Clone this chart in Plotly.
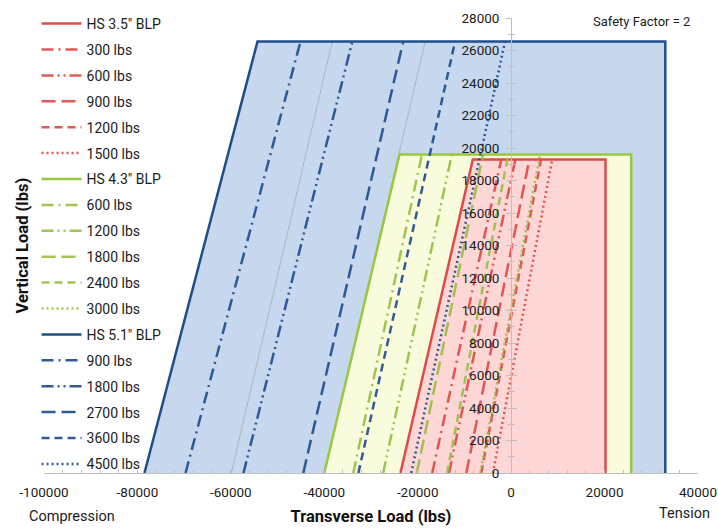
import plotly.graph_objects as go

# ---------------- data (lbs) ----------------
# HS 3.5" BLP envelope and capacity lines
red_env_x = [-23700, -8200, 20200, 20200]          # bottom-left, top-left, top-right, bottom-right
red_env_y = [0, 19300, 19300, 0]
red_loads = ["300 lbs", "600 lbs", "900 lbs", "1200 lbs", "1500 lbs"]
red_bottom_x = [-16900, -13300, -9600, -6400, -3900]
red_top_x = [-2100, 900, 3900, 6400, 8800]
red_top_y = 19300

# HS 4.3" BLP
green_env_x = [-40000, -23900, 25700, 25700]
green_env_y = [0, 19600, 19600, 0]
green_loads = ["600 lbs", "1200 lbs", "1800 lbs", "2400 lbs", "3000 lbs"]
green_bottom_x = [-33800, -27400, -20200, -13700, -6600]
green_top_x = [-19100, -12700, -6000, -600, 6200]
green_top_y = 19600

# HS 5.1" BLP
blue_env_x = [-78500, -54300, 33000, 33000]
blue_env_y = [0, 26550, 26550, 0]
blue_loads = ["900 lbs", "1800 lbs", "2700 lbs", "3600 lbs", "4500 lbs"]
blue_bottom_x = [-69700, -57300, -44500, -32700, -21400]
blue_top_x = [-45100, -34000, -23100, -12000, -1300]
blue_top_y = 26550

# faint guide lines inside the 5.1" envelope
guide_bottom_x = [-59900, -40000]
guide_top_x = [-38300, -18400]
guide_top_y = 26550

x_ticks = [-100000, -80000, -60000, -40000, -20000, 0, 20000, 40000]
y_ticks = list(range(0, 28001, 2000))

# ---------------- styles ----------------
FONT = "Roboto"
TXT = "#1c1c1c"
RED, RED_FILL = "#DE4B48", "#FDD6D6"
GREEN, GREEN_FILL = "#97C83F", "#F8FBDC"
BLUE, BLUE_FILL = "#1F4E8C", "#C6D7EE"
DASHES = ["12px,5px,2px,5px", "12px,4px,2px,4px,2px,4px", "14px,6px", "8px,5px", "2px,3px"]

fig = go.Figure()


def add_fill(xs, ys, color):
    fig.add_trace(go.Scatter(x=xs + [xs[0]], y=ys + [ys[0]], fill="toself", fillcolor=color,
                             mode="none", showlegend=False, hoverinfo="skip"))


add_fill(blue_env_x, blue_env_y, BLUE_FILL)
for bx, tx in zip(guide_bottom_x, guide_top_x):
    fig.add_trace(go.Scatter(x=[bx, tx], y=[0, guide_top_y], mode="lines",
                             line=dict(color="rgba(150,150,150,0.7)", width=0.8),
                             showlegend=False, hoverinfo="skip"))
add_fill(green_env_x, green_env_y, GREEN_FILL)
add_fill(red_env_x, red_env_y, RED_FILL)

rank = [0]


def add_family(name, env_x, env_y, loads, bxs, txs, ty, color, alpha_color):
    rank[0] += 1
    fig.add_trace(go.Scatter(x=env_x, y=env_y, mode="lines", name=name,
                             line=dict(color=color, width=2.5), legendrank=rank[0],
                             legendgroup="g%d" % rank[0]))
    for lab, bx, tx, d in zip(loads, bxs, txs, DASHES):
        rank[0] += 1
        fig.add_trace(go.Scatter(x=[bx, tx], y=[0, ty], mode="lines", name=lab,
                                 line=dict(color=alpha_color, width=2.5, dash=d),
                                 legendrank=rank[0], legendgroup="g%d" % rank[0]))


add_family('HS 3.5" BLP', red_env_x, red_env_y, red_loads, red_bottom_x, red_top_x, red_top_y,
           RED, "rgba(222,75,72,0.92)")
add_family('HS 4.3" BLP', green_env_x, green_env_y, green_loads, green_bottom_x, green_top_x,
           green_top_y, GREEN, "rgba(151,190,63,0.9)")
add_family('HS 5.1" BLP', blue_env_x, blue_env_y, blue_loads, blue_bottom_x, blue_top_x,
           blue_top_y, BLUE, "rgba(31,78,140,0.92)")

# dummy trace for the crossing tick axis
fig.add_trace(go.Scatter(x=[None], y=[None], yaxis="y2", showlegend=False, hoverinfo="skip"))

AX = "#BFBFBF"
ypos = 100000 / 140000

fig.update_layout(
    width=718, height=529,
    margin=dict(l=44, r=20, t=18, b=56, autoexpand=False),
    plot_bgcolor="white", paper_bgcolor="white",
    font=dict(family=FONT, size=13, color=TXT),
    showlegend=True,
    legend=dict(x=-0.0114, y=1.022, xanchor="left", yanchor="top", bgcolor="rgba(0,0,0,0)",
                font=dict(family=FONT, size=14, color=TXT), itemwidth=40,
                tracegroupgap=4.7, traceorder="grouped", maxheight=1.0),
    xaxis=dict(range=[-100000, 40000], tickvals=x_ticks, ticktext=[str(v) for v in x_ticks],
               showgrid=False, zeroline=False, showline=True, linecolor=AX, linewidth=1,
               ticks="inside", ticklen=3, tickcolor=AX, ticklabelstandoff=7,
               minor=dict(dtick=4000, ticks="inside", ticklen=3, tickcolor=AX),
               tickfont=dict(size=13.5, color=TXT),
               title=dict(text="<b>Transverse Load (lbs)</b>", font=dict(size=16.5, color="#111111"),
                          standoff=11)),
    yaxis=dict(range=[0, 28000], tickvals=y_ticks, ticktext=[str(v) for v in y_ticks],
               anchor="free", position=ypos, showgrid=False, zeroline=False,
               showline=True, linecolor=AX, linewidth=1, layer="above traces",
               ticks="outside", ticklen=5, tickcolor=AX, ticklabelstandoff=4,
               minor=dict(dtick=1000, ticks="outside", ticklen=3, tickcolor=AX),
               tickfont=dict(size=13.5, color=TXT)),
    yaxis2=dict(range=[0, 28000], overlaying="y", anchor="free", position=ypos,
                tickvals=y_ticks, showticklabels=False, showgrid=False, zeroline=False,
                showline=False, ticks="inside", ticklen=5, tickcolor=AX,
                minor=dict(dtick=1000, ticks="inside", ticklen=3, tickcolor=AX)),
    annotations=[
        dict(text="<b>Vertical Load (lbs)</b>", xref="paper", yref="paper", x=-0.0336, y=0.5,
             textangle=-90, showarrow=False, font=dict(size=16.5, color="#111111"),
             xanchor="center", yanchor="middle"),
        dict(text="Compression", xref="paper", yref="paper", x=0.0428, y=-0.0967,
             showarrow=False, font=dict(size=14.5, color=TXT), xanchor="center", yanchor="middle"),
        dict(text="Tension", xref="paper", yref="paper", x=0.980, y=-0.0901,
             showarrow=False, font=dict(size=14.5, color=TXT), xanchor="center", yanchor="middle"),
        dict(text="Safety Factor = 2", xref="paper", yref="paper", x=0.913, y=0.9934,
             showarrow=False, font=dict(size=13, color=TXT), xanchor="center", yanchor="middle"),
    ],
)

fig.write_html("out.html", config={"displayModeBar": False},
               post_script="document.body.style.margin='0';document.body.style.padding='0';")
